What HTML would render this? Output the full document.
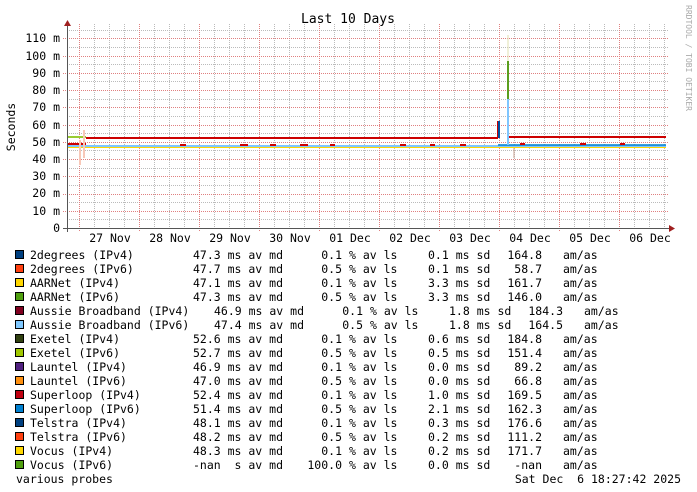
<!DOCTYPE html>
<html><head><meta charset="utf-8"><style>
html,body{margin:0;padding:0;background:#fff;}
svg{display:block;}
text{font-family:"DejaVu Sans Mono","Liberation Mono",monospace;font-size:11.5px;fill:#000;white-space:pre;}
</style></head><body>
<svg width="697" height="492" xmlns="http://www.w3.org/2000/svg" xml:space="preserve">
<rect width="697" height="492" fill="#fff"/>
<g id="grid"></g>
<script>
(function(){
var ns="http://www.w3.org/2000/svg",g=document.getElementById("grid");
function L(x1,y1,x2,y2,c,d,w){var l=document.createElementNS(ns,"line");l.setAttribute("x1",x1);l.setAttribute("y1",y1);l.setAttribute("x2",x2);l.setAttribute("y2",y2);l.setAttribute("stroke",c);l.setAttribute("stroke-width",w||1);if(d)l.setAttribute("stroke-dasharray",d);g.appendChild(l);}
for(var i=1;i<=23;i++){var y=Math.round(228-i*8.625);if(i%2)L(67,y+.5,668,y+.5,"#bbb","1,1");}
for(var x=67+12;x<668;x+=15){L(x+.5,24,x+.5,228,"#bbb","1,1");}
for(var x=79;x<668;x+=60){L(x+.5,24,x+.5,232,"#e08080","1,1");}
for(var i=1;i<=11;i++){var y=Math.round(228-i*17.25);L(63,y+.5,668,y+.5,"#e08080","1,1");}
})();
</script>
<g stroke-width="2" fill="none">
<path d="M67 137 H86" stroke="#9c3"/>
<path d="M67 146 H86" stroke="#f90"/>
<path d="M67 144 H86" stroke="#c00"/>
<path d="M133 138 H498" stroke="#0080d0" stroke-width="1.5"/>
<path d="M86 138 H498 M509 137 H666" stroke="#c00"/>
<path d="M498 138 V121" stroke="#c00"/>
<path d="M67 147 H666" stroke="#ffd700"/>
<path d="M67 146 H666" stroke="#7fc6ff"/>
<path d="M498 145 H666" stroke="#0080d0" stroke-width="1.5"/>
<path d="M499 121 V138" stroke="#0050a0"/>
<path d="M508 61 V99" stroke="#5a9e1e"/>
<path d="M508 99 V145" stroke="#7fc6ff"/>
<path d="M508 35 V61" stroke="#e0e0b0" stroke-width="1"/>
<path d="M514 148 V158" stroke="#c9a090" stroke-width="1"/>
<path d="M80 140 V165 M84 130 V158" stroke="#f8c8b8" stroke-width="2"/>
</g>
<g stroke-width="2" stroke="#c00">
<path d="M180 145h6M240 145h8M270 145h6M300 145h8M330 145h5M400 145h6M430 145h5M460 145h6M520 144h5M580 144h6M620 144h5"/>
</g>
<line x1="67.5" y1="24" x2="67.5" y2="232" stroke="#555"/>
<line x1="63" y1="228.5" x2="672" y2="228.5" stroke="#555"/>
<polygon points="64,26 71,26 67.5,20" fill="#a02020"/>
<polygon points="669,225 669,232 675,228.5" fill="#a02020"/>
<g font-size="11" text-anchor="end">
<text x="60" y="232">0</text>
<text x="60" y="215">10 m</text>
<text x="60" y="197">20 m</text>
<text x="60" y="180">30 m</text>
<text x="60" y="163">40 m</text>
<text x="60" y="146">50 m</text>
<text x="60" y="129">60 m</text>
<text x="60" y="111">70 m</text>
<text x="60" y="94">80 m</text>
<text x="60" y="77">90 m</text>
<text x="60" y="60">100 m</text>
<text x="60" y="42">110 m</text>
</g>
<g text-anchor="middle">
<text x="110" y="242">27 Nov</text><text x="170" y="242">28 Nov</text><text x="230" y="242">29 Nov</text><text x="290" y="242">30 Nov</text><text x="350" y="242">01 Dec</text><text x="410" y="242">02 Dec</text><text x="470" y="242">03 Dec</text><text x="530" y="242">04 Dec</text><text x="590" y="242">05 Dec</text><text x="650" y="242">06 Dec</text>
</g>
<text x="348" y="23" text-anchor="middle" style="font-size:13px">Last 10 Days</text>
<text transform="translate(15,127) rotate(-90)" text-anchor="middle">Seconds</text>
<text transform="translate(686,5) rotate(90)" style="font-size:8px;fill:#aaa">RRDTOOL / TOBI OETIKER</text>
<g id="leg"></g>
<script>
(function(){
var ns="http://www.w3.org/2000/svg",g=document.getElementById("leg");
var rows=[["2degrees (IPv4)","#004080","47.3 ms","0.1","0.1","164.8"],
["2degrees (IPv6)","#ff4010","47.7 ms","0.5","0.1","58.7"],
["AARNet (IPv4)","#ffd700","47.1 ms","0.1","3.3","161.7"],
["AARNet (IPv6)","#50a010","47.3 ms","0.5","3.3","146.0"],
["Aussie Broadband (IPv4)","#800020","46.9 ms","0.1","1.8","184.3",1],
["Aussie Broadband (IPv6)","#80c8ff","47.4 ms","0.5","1.8","164.5",1],
["Exetel (IPv4)","#304010","52.6 ms","0.1","0.6","184.8"],
["Exetel (IPv6)","#a0c800","52.7 ms","0.5","0.5","151.4"],
["Launtel (IPv4)","#502080","46.9 ms","0.1","0.0","89.2"],
["Launtel (IPv6)","#ff9010","47.0 ms","0.5","0.0","66.8"],
["Superloop (IPv4)","#c00010","52.4 ms","0.1","1.0","169.5"],
["Superloop (IPv6)","#0080d0","51.4 ms","0.5","2.1","162.3"],
["Telstra (IPv4)","#004080","48.1 ms","0.1","0.3","176.6"],
["Telstra (IPv6)","#ff4010","48.2 ms","0.5","0.2","111.2"],
["Vocus (IPv4)","#ffd700","48.3 ms","0.1","0.2","171.7"],
["Vocus (IPv6)","#50a010","-nan  s","100.0","0.0","-nan"]];
function T(x,y,s,a){var t=document.createElementNS(ns,"text");t.setAttribute("x",x);t.setAttribute("y",y);if(a)t.setAttribute("text-anchor",a);t.textContent=s;g.appendChild(t);}
rows.forEach(function(r,i){
 var yc=255+i*14,y=yc+4,o=r[6]?21:0;
 var R=document.createElementNS(ns,"rect");R.setAttribute("x",15.5);R.setAttribute("y",yc-4.5);R.setAttribute("width",8);R.setAttribute("height",8);R.setAttribute("fill",r[1]);R.setAttribute("stroke","#000");g.appendChild(R);
 T(30,y,r[0]);T(193+o,y,r[2]+" av md");T(342+o,y,r[3],"end");T(349+o,y,"% av ls");
 T(428+o,y,r[4]+" ms sd");T(542+o,y,r[5],"end");T(563+o,y,"am/as");
});
T(16,483,"various probes");T(681,483,"Sat Dec  6 18:27:42 2025","end");
})();
</script>
</svg>
</body></html>
